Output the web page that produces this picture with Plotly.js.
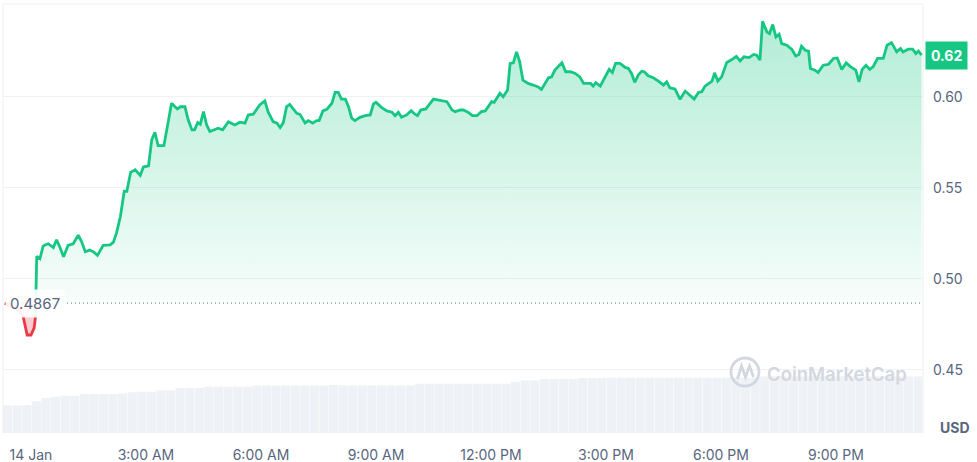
<!DOCTYPE html>
<html><head><meta charset="utf-8">
<script src="https://cdn.plot.ly/plotly-3.0.1.min.js"></script>
<style>html,body{margin:0;padding:0;background:#fff;} #chart{width:977px;height:462px;}</style>
</head><body><div id="chart"></div>
<script>
// minutes relative to 14 Jan 00:00
const minutes = [-41,-19,-12,-6,0,5,7,8,9,14,19,22,27,35,40,45,51,58,64,66,74,79,85,92,98,104,113,124,129,134,140,146,150,156,163,171,176,184,189,194,199,208,213,220,229,234,241,246,252,256,261,265,270,275,280,293,300,309,319,327,335,340,348,358,366,371,379,385,390,395,400,405,416,421,429,434,441,447,451,457,463,471,476,481,486,492,497,502,507,515,523,531,536,540,549,557,565,570,575,580,588,595,601,605,610,618,630,638,651,659,664,672,677,685,691,698,705,711,721,725,734,739,746,750,755,760,765,770,778,786,793,799,805,810,815,820,831,837,844,852,859,865,871,876,880,884,891,898,905,910,915,922,930,935,940,945,951,956,960,966,974,982,990,995,1000,1008,1016,1024,1032,1038,1045,1050,1055,1060,1066,1070,1075,1081,1089,1097,1104,1110,1116,1124,1131,1136,1141,1145,1152,1156,1161,1166,1171,1175,1183,1191,1197,1202,1206,1212,1217,1220,1227,1232,1240,1248,1256,1262,1269,1276,1283,1291,1296,1301,1307,1313,1318,1325,1332,1334,1340,1347,1355,1361,1365,1373,1380,1385,1389,1394];
const price = [0.4867,0.4829,0.4789,0.4692,0.4692,0.4731,0.4791,0.4933,0.5124,0.5111,0.5180,0.5186,0.5193,0.5172,0.5215,0.5176,0.5121,0.5184,0.5190,0.5193,0.5240,0.5206,0.5149,0.5158,0.5148,0.5129,0.5184,0.5187,0.5202,0.5254,0.5344,0.5481,0.5481,0.5585,0.5599,0.5568,0.5614,0.5621,0.5763,0.5805,0.5731,0.5731,0.5827,0.5964,0.5933,0.5945,0.5945,0.5873,0.5818,0.5818,0.5858,0.5849,0.5918,0.5845,0.5809,0.5827,0.5818,0.5863,0.5845,0.5860,0.5855,0.5900,0.5904,0.5955,0.5977,0.5918,0.5863,0.5855,0.5831,0.5858,0.5945,0.5958,0.5909,0.5903,0.5856,0.5869,0.5855,0.5869,0.5869,0.5922,0.5931,0.5964,0.6024,0.6024,0.5987,0.5987,0.5945,0.5882,0.5869,0.5887,0.5896,0.5900,0.5960,0.5969,0.5940,0.5922,0.5915,0.5896,0.5915,0.5887,0.5900,0.5923,0.5904,0.5896,0.5927,0.5933,0.5987,0.5982,0.5973,0.5927,0.5918,0.5927,0.5927,0.5913,0.5896,0.5896,0.5918,0.5922,0.5973,0.5969,0.6019,0.6000,0.6037,0.6183,0.6186,0.6246,0.6191,0.6091,0.6073,0.6064,0.6055,0.6040,0.6073,0.6104,0.6109,0.6146,0.6186,0.6137,0.6137,0.6128,0.6109,0.6073,0.6073,0.6073,0.6058,0.6077,0.6058,0.6104,0.6150,0.6133,0.6183,0.6183,0.6161,0.6155,0.6128,0.6079,0.6122,0.6140,0.6137,0.6115,0.6104,0.6086,0.6064,0.6082,0.6049,0.6042,0.5986,0.6031,0.6004,0.5987,0.6024,0.6027,0.6058,0.6069,0.6086,0.6131,0.6086,0.6109,0.6188,0.6204,0.6222,0.6197,0.6219,0.6215,0.6232,0.6228,0.6201,0.6414,0.6355,0.6346,0.6396,0.6328,0.6343,0.6292,0.6283,0.6259,0.6224,0.6232,0.6277,0.6255,0.6250,0.6155,0.6146,0.6133,0.6173,0.6177,0.6210,0.6213,0.6150,0.6186,0.6164,0.6146,0.6082,0.6150,0.6173,0.6150,0.6164,0.6210,0.6213,0.6210,0.6283,0.6297,0.6246,0.6264,0.6246,0.6261,0.6261,0.6237,0.6251,0.6228];
const basePrice = 0.4867;
// 15-minute volume bars (relative units, millions)
const volume = [6.43,6.43,6.5,7.4,8.16,8.46,8.69,8.69,9.09,9.09,9.09,9.09,9.2,9.5,9.63,9.63,9.95,9.95,10.49,10.49,10.49,10.79,10.79,10.79,10.79,10.79,11.05,11.05,11.05,11.05,11.05,11.05,11.05,11.05,11.2,11.1,11.1,11.1,11.1,11.1,11.1,11.1,11.1,11.47,11.47,11.47,11.47,11.47,11.47,11.47,11.47,11.47,11.47,11.89,12.26,12.26,12.59,12.59,12.59,12.59,12.82,12.82,12.85,12.89,12.89,12.89,12.89,12.89,12.89,12.89,12.89,12.89,12.89,12.89,12.89,12.89,12.89,12.89,12.89,13.19,13.19,13.19,13.19,13.19,13.19,13.19,13.19,13.19,13.19,13.19,13.19,13.19,13.19,13.19,13.19,13.19];
const volFirstCenter = -36.5, volStep = 15;
const tickMinutes = [0,180,360,540,720,900,1080,1260];
const tickLabels = ['14 Jan','3:00 AM','6:00 AM','9:00 AM','12:00 PM','3:00 PM','6:00 PM','9:00 PM'];
const priceTicks = [0.45,0.50,0.55,0.60];
const priceTickLabels = ['0.45','0.50','0.55','0.60'];

const GREEN = '#16c784', RED = '#ea3943', GREY = '#58667e';
const volX = volume.map((_, i) => volFirstCenter + i * volStep);
let split = price.findIndex((p, i) => i > 0 && p > basePrice);
const redX = minutes.slice(0, split), redY = price.slice(0, split);
const greenX = minutes.slice(split - 1), greenY = price.slice(split - 1);
const last = price[price.length - 1];

const traces = [
  {type:'bar', x: volX, y: volume, yaxis:'y2', marker:{color:'#eef1f5', line:{width:0}}, hoverinfo:'skip', showlegend:false},
  {type:'scatter', mode:'lines', x: redX, y: redX.map(() => basePrice), line:{width:0, color:'rgba(0,0,0,0)'}, hoverinfo:'skip', showlegend:false},
  {type:'scatter', mode:'lines', x: redX, y: redY, fill:'tonexty', fillcolor:'rgba(234,57,67,0.25)', line:{color:RED, width:2.8}, showlegend:false},
  {type:'scatter', mode:'lines', x: greenX, y: greenX.map(() => basePrice), line:{width:0, color:'rgba(0,0,0,0)'}, hoverinfo:'skip', showlegend:false},
  {type:'scatter', mode:'lines', x: greenX, y: greenY, fill:'tonexty',
   fillgradient:{type:'vertical', colorscale:[[0,'rgba(22,199,132,0.02)'],[1,'rgba(22,199,132,0.33)']]},
   line:{color:GREEN, width:2.8}, showlegend:false}
];

const px = v => (v - 3) / 920, py = v => (433 - v) / 429;
const layout = {
  width: 977, height: 462,
  margin: {l:3, r:54, t:4, b:29, pad:0},
  paper_bgcolor:'#ffffff', plot_bgcolor:'#ffffff',
  font: {family:'Inter, "Noto Sans", sans-serif', color:GREY},
  showlegend:false, bargap:0.05,
  xaxis: {range:[-43.8, 1396.2], tickvals:tickMinutes, ticktext:tickLabels, showgrid:false, zeroline:false, showline:false, ticks:'', tickfont:{size:14, color:GREY}, ticklabelstandoff:12, fixedrange:true},
  yaxis: {range:[0.4154, 0.6509], side:'right', tickvals:priceTicks, ticktext:priceTickLabels, showgrid:true, gridcolor:'#eff2f5', gridwidth:1, zeroline:false, showline:false, ticks:'', tickfont:{size:14, color:GREY}, ticklabelstandoff:9},
  yaxis2: {range:[0,100], overlaying:'y', side:'left', visible:false, showgrid:false, zeroline:false},
  shapes: [
    {type:'line', xref:'paper', yref:'paper', x0:0, x1:1, y0:1, y1:1, line:{color:'#eceff3', width:1}, layer:'below'},
    {type:'line', xref:'paper', yref:'paper', x0:0, x1:0, y0:0, y1:1, line:{color:'#eceff3', width:1}, layer:'below'},
    {type:'line', xref:'paper', yref:'paper', x0:1, x1:1, y0:0, y1:1, line:{color:'#eceff3', width:1}, layer:'below'},
    {type:'line', xref:'paper', yref:'y', x0:px(63), x1:1, y0:basePrice, y1:basePrice, line:{color:'rgba(88,102,126,0.75)', width:1.3, dash:'1px,3px'}},
    {type:'circle', xref:'paper', yref:'paper', x0:px(731), x1:px(759), y0:py(386), y1:py(358), line:{color:'#d3d8e0', width:2.8}},
    {type:'path', xref:'paper', yref:'paper', path:`M ${px(737.5)} ${py(379)} L ${px(741.5)} ${py(366)} L ${px(745.5)} ${py(377)} L ${px(749.5)} ${py(366)} L ${px(753.5)} ${py(377)}`, line:{color:'#d3d8e0', width:2.8}}
  ],
  annotations: [
    {xref:'paper', yref:'y', x:px(35), y:basePrice, text:basePrice.toFixed(4), showarrow:false, xanchor:'center', yanchor:'middle', font:{size:15, color:GREY}, bgcolor:'rgba(255,255,255,0.92)', borderpad:4},
    {xref:'paper', yref:'y', x:px(925), y:last, text:'<b>' + last.toFixed(2) + '</b>', showarrow:false, xanchor:'left', yanchor:'middle', font:{size:14, color:'#ffffff'}, bgcolor:GREEN, borderpad:5},
    {xref:'paper', yref:'paper', x:px(955), y:py(427), text:'<b>USD</b>', showarrow:false, xanchor:'center', yanchor:'middle', font:{size:14, color:GREY}},
    {xref:'paper', yref:'paper', x:px(837), y:py(374), text:'CoinMarketCap', showarrow:false, xanchor:'center', yanchor:'middle', font:{size:18.5, color:'#d3d8e0', weight:600}}
  ]
};
Plotly.newPlot('chart', traces, layout, {displayModeBar:false, staticPlot:true});
</script></body></html>
